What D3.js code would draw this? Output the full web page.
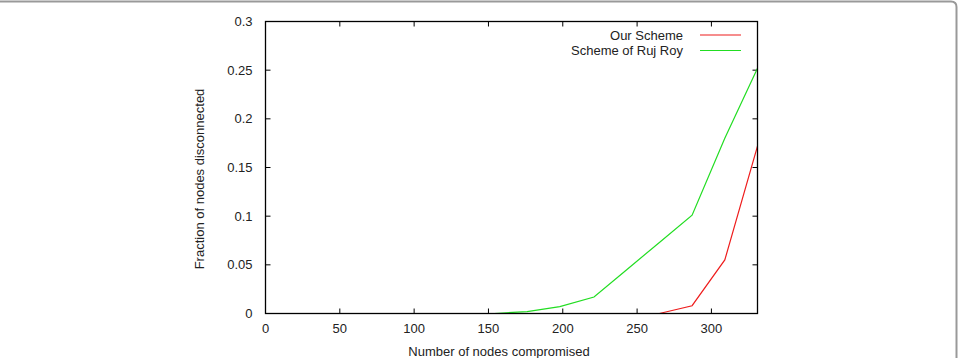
<!DOCTYPE html>
<html>
<head>
<meta charset="utf-8">
<script src="https://cdn.jsdelivr.net/npm/d3@7"></script>
<style>
  body { margin: 0; background: #fff; }
  svg text { font-family: "Liberation Sans", Arial, Helvetica, sans-serif; fill: #222; font-size: 13px; }
</style>
</head>
<body>
<svg id="chart" width="960" height="358"></svg>
<script>
// data
var nodesCompromised = [0, 22, 44, 66, 88, 110, 132, 154, 176, 198, 221, 243, 265, 287, 309, 331];
var ourScheme   = [0, 0, 0, 0, 0, 0, 0, 0, 0, 0, 0, 0, 0, 0.008, 0.055, 0.172];
var rujRoy      = [0, 0, 0, 0, 0, 0, 0, 0, 0.002, 0.007, 0.017, 0.045, 0.073, 0.101, 0.18, 0.252];
var seriesNames = ["Our Scheme", "Scheme of Ruj Roy"];
var seriesColors = ["#ee1c1c", "#22dd22"];
var xTicks = [0, 50, 100, 150, 200, 250, 300];
var yTicks = [0, 0.05, 0.1, 0.15, 0.2, 0.25, 0.3];

var svg = d3.select("#chart");

// outer frame (only top and right edges show)
svg.append("path")
   .attr("d", "M0,1.5 H951 Q956.5,1.5 956.5,7 V358")
   .attr("fill", "none")
   .attr("stroke", "#999")
   .attr("stroke-width", 2);

var plotLeft = 265.5, plotRight = 757.5, plotTop = 21.5, plotBottom = 313.5;

var x = d3.scaleLinear().domain([0, 331]).range([plotLeft, plotRight]);
var y = d3.scaleLinear().domain([0, 0.3]).range([plotBottom, plotTop]);

var tickLen = 5;
var axisG = svg.append("g");

// ticks on all four sides, pointing inward
xTicks.forEach(function(t){
	axisG.append("line").attr("x1", x(t)).attr("x2", x(t)).attr("y1", plotBottom).attr("y2", plotBottom - tickLen).attr("stroke", "#000");
	axisG.append("line").attr("x1", x(t)).attr("x2", x(t)).attr("y1", plotTop).attr("y2", plotTop + tickLen).attr("stroke", "#000");
	axisG.append("text").attr("x", x(t)).attr("y", plotBottom + 19)
		 .attr("text-anchor", "middle").text(t);
});
yTicks.forEach(function(t){
	axisG.append("line").attr("x1", plotLeft).attr("x2", plotLeft + tickLen).attr("y1", y(t)).attr("y2", y(t)).attr("stroke", "#000");
	axisG.append("line").attr("x1", plotRight).attr("x2", plotRight - tickLen).attr("y1", y(t)).attr("y2", y(t)).attr("stroke", "#000");
	axisG.append("text").attr("x", plotLeft - 13).attr("y", y(t)).attr("dy", ".35em")
		 .attr("text-anchor", "end").text(t);
});

// series
var line = d3.line()
	.x(function(d){ return x(d[0]); })
	.y(function(d){ return y(d[1]); });

[rujRoy, ourScheme].forEach(function(vals, i){
	var pts = nodesCompromised.map(function(n, j){ return [n, vals[j]]; });
	svg.append("path")
	   .datum(pts)
	   .attr("fill", "none")
	   .attr("stroke", i === 0 ? seriesColors[1] : seriesColors[0])
	   .attr("stroke-width", 1.2)
	   .attr("d", line);
});

// plot border
svg.append("rect")
   .attr("x", plotLeft).attr("y", plotTop)
   .attr("width", plotRight - plotLeft).attr("height", plotBottom - plotTop)
   .attr("fill", "none").attr("stroke", "#000").attr("stroke-width", 1.3);

// legend
seriesNames.forEach(function(name, i){
	var ly = 35 + i * 15.5;
	svg.append("text").attr("x", 683).attr("y", ly).attr("dy", ".35em")
	   .attr("text-anchor", "end").text(name);
	svg.append("line").attr("x1", 700).attr("x2", 741).attr("y1", ly).attr("y2", ly)
	   .attr("stroke", seriesColors[i]).attr("stroke-width", 1.2);
});

// axis titles
svg.append("text").attr("x", 499).attr("y", 356)
   .attr("text-anchor", "middle")
   .text("Number of nodes compromised");
svg.append("text")
   .attr("transform", "translate(204," + 179 + ") rotate(-90)")
   .attr("text-anchor", "middle")
   .text("Fraction of nodes disconnected");
</script>
</body>
</html>
